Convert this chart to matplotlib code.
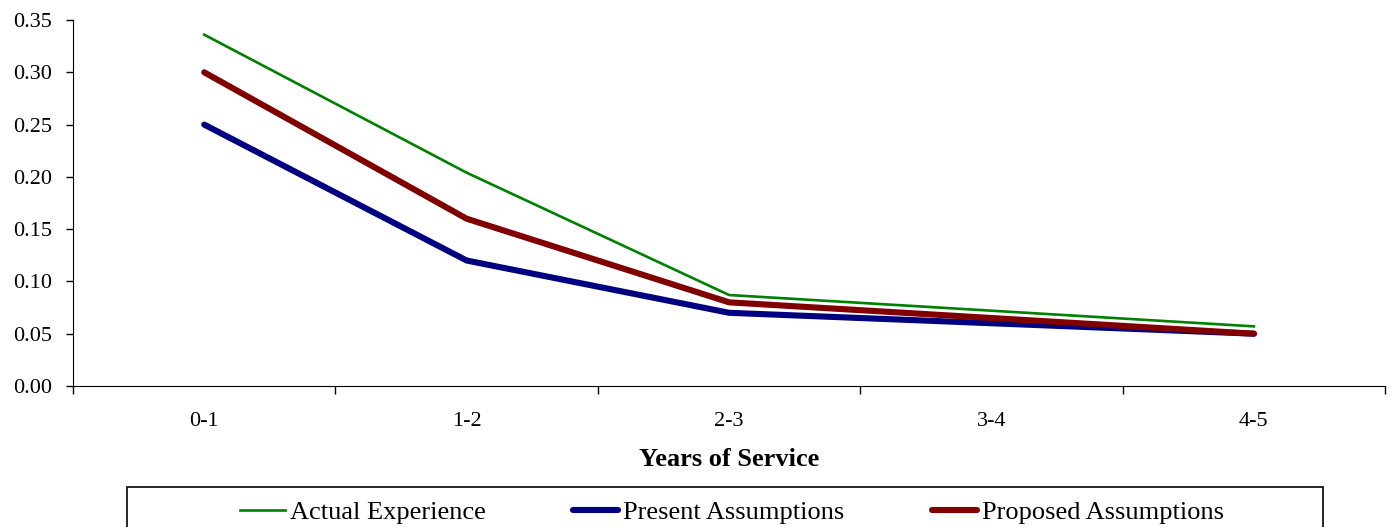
"""Termination rates by years of service: actual experience vs assumptions."""
import matplotlib
matplotlib.use("Agg")
import matplotlib.pyplot as plt
import matplotlib.ticker as mticker
from matplotlib.patches import Rectangle

years = ["0-1", "1-2", "2-3", "3-4", "4-5"]
actual_experience = [0.336, 0.204, 0.087, 0.072, 0.057]
present_assumptions = [0.25, 0.12, 0.07, 0.06, 0.05]
proposed_assumptions = [0.30, 0.16, 0.08, 0.065, 0.05]

plt.rcParams["font.family"] = ["Liberation Serif", "DejaVu Serif"]

fig = plt.figure(figsize=(13.9, 5.27), dpi=100)
ax = fig.add_axes([0.0525, 0.2676, 0.944, 0.6944])

x = list(range(len(years)))
ax.plot(x, actual_experience, color="#008000", linewidth=1.9, label="Actual Experience")
ax.plot(x, present_assumptions, color="#000080", linewidth=4.4, label="Present Assumptions",
        solid_capstyle="round")
ax.plot(x, proposed_assumptions, color="#800000", linewidth=4.4, label="Proposed Assumptions",
        solid_capstyle="round")

ax.set_xlim(-0.5, len(years) - 0.5)
ax.set_ylim(0, 0.35)
ax.yaxis.set_major_locator(mticker.MultipleLocator(0.05))
ax.yaxis.set_major_formatter(mticker.FormatStrFormatter("%.2f"))

# tick marks between categories, labels at category centres
ax.set_xticks([i - 0.5 for i in range(len(years) + 1)])
ax.set_xticklabels([])
ax.set_xticks(x, minor=True)
ax.set_xticklabels(years, minor=True)
ax.tick_params(axis="x", which="major", direction="out", length=6, width=1, color="black")
ax.tick_params(axis="x", which="minor", length=0, pad=19, labelsize=16)
ax.tick_params(axis="y", direction="out", length=5, width=1, labelsize=16, pad=10)

ax.spines["top"].set_visible(False)
ax.spines["right"].set_visible(False)
ax.spines["left"].set_color("black")
ax.spines["bottom"].set_color("black")

ax.set_xlabel("Years of Service", fontsize=19, fontweight="bold", labelpad=12)

# legend box (runs off the bottom edge as in the source)
fig.patches.append(Rectangle((127 / 1390, -0.05), (1323 - 127) / 1390, 0.05 + 40 / 527,
                             transform=fig.transFigure, fill=False,
                             edgecolor="black", linewidth=1.2))
fig.legend(loc="center", bbox_to_anchor=(732 / 1390, 1 - 512 / 527), ncol=3,
           frameon=False, fontsize=19, handlelength=1.7, handletextpad=0.2,
           columnspacing=3.3, borderaxespad=0)

fig.savefig("out.png", dpi=100, facecolor="white")
plt.close(fig)
